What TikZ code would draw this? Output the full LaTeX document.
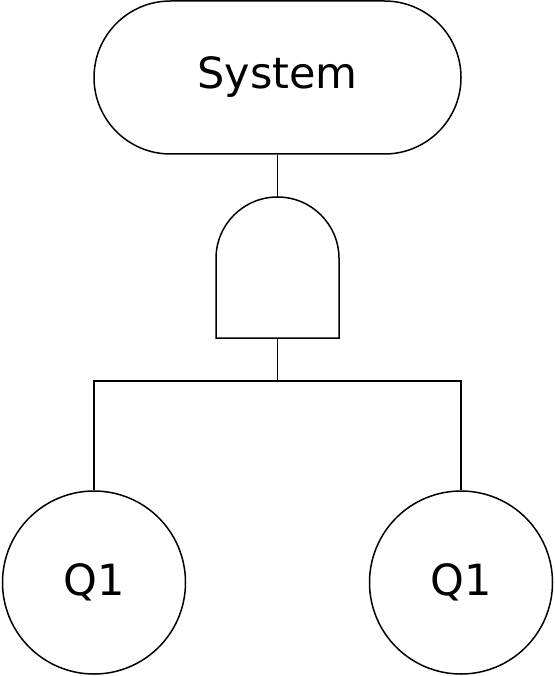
\documentclass[tikz,border=0pt]{standalone}
\usepackage{fontspec}
\setmainfont{DejaVu Sans}
\begin{document}
\begin{tikzpicture}[x=1pt,y=-1pt,
  ln/.style={line width=1.5pt,draw=black},
  lbl/.style={font=\fontsize{43}{50}\selectfont,inner sep=0pt}]
\useasboundingbox (0,0) rectangle (554,676);
% top event
\node[ln,lbl,rounded corners=76.5pt,minimum width=367pt,minimum height=153pt] (sys) at (277.5,77.5) {System};
% AND gate
\coordinate (gtop) at (277.5,197);
\coordinate (gbot) at (277.5,338);
\draw[ln] (216,338) -- (216,258.5) arc[start angle=180,end angle=360,radius=61.5] -- (339,338) -- cycle;
\draw[ln] (sys.south) -- (gtop);
% branches
\coordinate (junc) at (277.5,381);
\node[ln,lbl,circle,minimum size=183pt] (q1a) at (94,582.5) {Q1};
\node[ln,lbl,circle,minimum size=183pt] (q1b) at (461,582.5) {Q1};
\draw[ln] (gbot) -- (junc);
\draw[ln] (q1a.north) |- (junc) -| (q1b.north);
\end{tikzpicture}
\end{document}
